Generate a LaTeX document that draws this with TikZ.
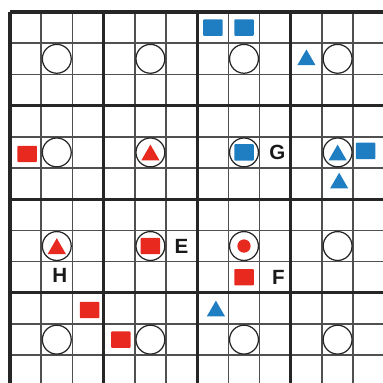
\documentclass[tikz,border=0pt]{standalone}
\usepackage{fontspec}
\setmainfont{Liberation Sans}
\usetikzlibrary{shapes.geometric}
\definecolor{gridgray}{HTML}{505050}
\definecolor{pcred}{HTML}{E8291F}
\definecolor{pcblue}{HTML}{1F7DC2}

\begin{document}
\begin{tikzpicture}[x=0.8cm, y=-0.8cm,
  cellline/.style={draw=gridgray, line width=1.1pt},
  blockline/.style={draw=black!85, line width=2.4pt},
  ring/.style={circle, draw=black!85, line width=0.9pt, fill=white, minimum size=0.74cm, inner sep=0pt},
  sqr/.style={rectangle, rounded corners=0.6pt, minimum width=0.5cm, minimum height=0.42cm, inner sep=0pt},
  tri/.style={regular polygon, regular polygon sides=3, minimum size=0.54cm, inner sep=0pt, yshift=-0.07cm},
  dot/.style={circle, minimum size=0.34cm, inner sep=0pt},
  lbl/.style={font=\fontsize{15}{18}\selectfont\bfseries, text=black!90, inner sep=0pt}
]
  % page and crop
  \useasboundingbox (-0.32,-0.385) rectangle (11.955,11.86);
  \clip (-0.32,-0.385) rectangle (11.955,11.86);
  \fill[white] (-0.32,-0.385) rectangle (11.955,11.86);

  % grid
  \foreach \i in {0,...,12} {
    \draw[cellline] (\i,0) -- (\i,12);
    \draw[cellline] (0,\i) -- (12,\i);
  }
  \foreach \i in {0,3,...,12} {
    \draw[blockline] (\i,0) -- (\i,12);
    \draw[blockline] (0,\i) -- (12,\i);
  }

  % one ring in the middle cell of every block
  \foreach \bx in {0,...,3}
    \foreach \by in {0,...,3}
      \node[ring] (r\bx\by) at (3*\bx+1.5,3*\by+1.5) {};

  % blue pieces
  \node[sqr, fill=pcblue] (bs1) at (6.5,0.5) {};
  \node[sqr, fill=pcblue] (bs2) at (7.5,0.5) {};
  \node[tri, fill=pcblue] (bt1) at (9.5,1.45) {};
  \node[sqr, fill=pcblue] (bs3) at (r21) {};
  \node[tri, fill=pcblue] (bt2) at (r31) {};
  \node[sqr, fill=pcblue] (bs4) at (11.4,4.45) {};
  \node[tri, fill=pcblue] (bt3) at (10.55,5.4) {};
  \node[tri, fill=pcblue] (bt4) at (6.6,9.5) {};

  % red pieces
  \node[sqr, fill=pcred] (rs1) at (0.55,4.55) {};
  \node[tri, fill=pcred] (rt1) at (r11) {};
  \node[tri, fill=pcred] (rt2) at (r02) {};
  \node[sqr, fill=pcred] (rs2) at (r12) {};
  \node[dot, fill=pcred] (rd1) at (r22) {};
  \node[sqr, fill=pcred] (rs3) at (7.5,8.5) {};
  \node[sqr, fill=pcred] (rs4) at (2.55,9.55) {};
  \node[sqr, fill=pcred] (rs5) at (3.55,10.5) {};

  % letters
  \node[lbl] (G) at (8.57,4.5) {G};
  \node[lbl] (E) at (5.5,7.5) {E};
  \node[lbl] (F) at (8.6,8.5) {F};
  \node[lbl] (H) at (1.6,8.45) {H};
\end{tikzpicture}
\end{document}
